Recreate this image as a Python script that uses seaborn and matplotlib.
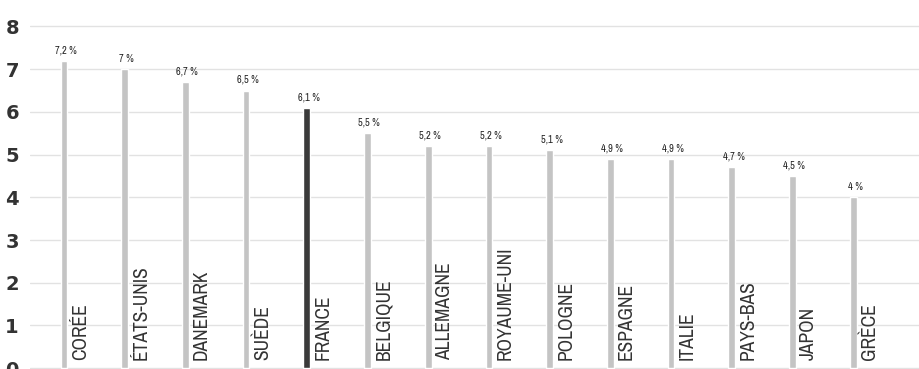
import matplotlib
matplotlib.use("Agg")
import matplotlib.pyplot as plt
import seaborn as sns
import pandas as pd
from matplotlib import font_manager as fm

countries = ["CORÉE", "ÉTATS-UNIS", "DANEMARK", "SUÈDE", "FRANCE", "BELGIQUE",
             "ALLEMAGNE", "ROYAUME-UNI", "POLOGNE", "ESPAGNE", "ITALIE",
             "PAYS-BAS", "JAPON", "GRÈCE"]
values = [7.2, 7.0, 6.7, 6.5, 6.1, 5.5, 5.2, 5.2, 5.1, 4.9, 4.9, 4.7, 4.5, 4.0]
highlight = "FRANCE"
yticks = [0, 1, 2, 3, 4, 5, 6, 7, 8]

sns.set_theme(style="white")
plt.rcParams['font.family'] = ['DejaVu Sans']

names = sorted({f.name for f in fm.fontManager.ttflist})
cond = [n for n in names if "Condensed" in n or "Narrow" in n]
label_family = cond[0] if cond else "DejaVu Sans"

df = pd.DataFrame({"pays": countries, "val": values})
palette = {c: ("#3a3a3a" if c == highlight else "#c4c4c4") for c in countries}

fig = plt.figure(figsize=(9.2, 3.69), dpi=100)
ax = fig.add_axes([30 / 920, 0, 890 / 920, 1])

sns.barplot(data=df, x="pays", y="val", hue="pays", palette=palette,
            width=0.11, legend=False, ax=ax, saturation=1)

ax.set_xlim(-0.56, 14.1)
ax.set_ylim(-0.02, 8.62)
ax.set_yticks(yticks)
ax.set_yticklabels([str(t) for t in yticks], fontsize=14, color="#333333",
                   fontweight="bold")
ax.tick_params(axis="y", length=0, pad=8)
ax.set_xticks([])
ax.set_xlabel("")
ax.set_ylabel("")
ax.grid(axis="y", color="#e2e2e2", linewidth=1)
ax.set_axisbelow(True)
for s in ax.spines.values():
    s.set_visible(False)

for i, (c, v) in enumerate(zip(countries, values)):
    lab = (f"{v:.1f}".replace(".", ",") if v != int(v) else f"{int(v)}") + " %"
    ax.text(i + 0.03, v + 0.13, lab, ha="center", va="bottom", fontsize=7.5,
            color="#222222", fontweight="bold", fontstretch="condensed",
            family=[label_family, "DejaVu Sans"])
    ax.text(i + 0.11, 0.2, c, rotation=90, ha="left", va="bottom",
            fontsize=14, color="#333333", fontstretch="condensed",
            family=[label_family, "DejaVu Sans"])

fig.savefig("out.png", dpi=100)
